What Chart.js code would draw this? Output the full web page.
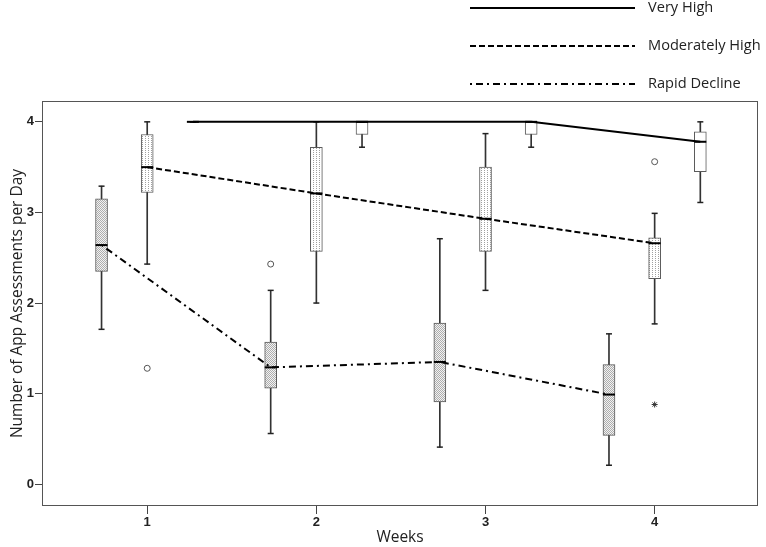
<!DOCTYPE html>
<html>
<head>
<meta charset="utf-8">
<script src="https://cdn.jsdelivr.net/npm/chart.js@4.4.1/dist/chart.umd.min.js"></script>
<style>
  body { margin: 0; background: #fff; }
</style>
</head>
<body>
<canvas id="grafica" width="766" height="547"></canvas>
<script>
// semanas del eje x
const semanas = [1, 2, 3, 4];
const nombresGrupos = ['Very High', 'Moderately High', 'Rapid Decline'];
const ticksY = [0, 1, 2, 3, 4];

// resumen por semana: [min, q1, mediana, q3, max]
const muyAlto = [
    [4.00, 4.00, 4.00, 4.00, 4.00],
    [3.72, 3.86, 4.00, 4.00, 4.00],
    [3.72, 3.86, 4.00, 4.00, 4.00],
    [3.11, 3.45, 3.78, 3.89, 4.00]
];
const moderado = [
    [2.43, 3.22, 3.50, 3.86, 4.00],
    [2.00, 2.57, 3.21, 3.72, 4.00],
    [2.14, 2.57, 2.93, 3.50, 3.87],
    [1.77, 2.27, 2.66, 2.72, 2.99]
];
const rapido = [
    [1.71, 2.35, 2.64, 3.15, 3.29],
    [0.56, 1.06, 1.29, 1.57, 2.14],
    [0.41, 0.91, 1.35, 1.78, 2.71],
    [0.21, 0.54, 0.99, 1.32, 1.66]
];

// valores atipicos: [semana, valor]
const atipicosModerado = [[1, 1.28], [4, 3.56]];
const atipicosRapido = [[2, 2.43]];
const extremosModerado = [[4, 0.88]];


/*-------------------------PATRONES-------------------------*/
function crearPatron(ancho, alto, puntos, fondo, color){
    const c = document.createElement('canvas');
    c.width = ancho;
    c.height = alto;
    const cx = c.getContext('2d');
    cx.fillStyle = fondo;
    cx.fillRect(0, 0, ancho, alto);
    cx.fillStyle = color;
    for(let i=0; i<puntos.length; i++){
        cx.fillRect(puntos[i][0], puntos[i][1], 1, 1);
    }
    return cx.createPattern(c, 'repeat');
}

const ctx = document.getElementById('grafica').getContext('2d');
const patronRapido = crearPatron(2, 2, [[0, 0], [1, 1]], '#f2f2f2', '#adadad');
const patronModerado = crearPatron(3, 2, [[1, 0]], '#ffffff', '#a0a0a0');

const grupos = [
    {nombre: nombresGrupos[0], datos: muyAlto, desp: 0.27, relleno: '#ffffff', guion: []},
    {nombre: nombresGrupos[1], datos: moderado, desp: 0, relleno: patronModerado, guion: [6, 3]},
    {nombre: nombresGrupos[2], datos: rapido, desp: -0.27, relleno: patronRapido, guion: [2, 4, 7, 4]}
];

function buscarDesp(nombre){
    for(let i=0; i<grupos.length; i++){
        if(grupos[i].nombre === nombre) return grupos[i].desp;
    }
    return 0;
}

let conjuntos = [];

grupos.forEach(g => {
    const xs = semanas.map(s => s + g.desp);

    // linea de medianas
    conjuntos.push({
        type: 'line',
        label: g.nombre,
        data: xs.map((x, i) => ({x: x, y: g.datos[i][2]})),
        borderColor: '#000',
        borderWidth: 2,
        borderDash: g.guion,
        pointRadius: 0,
        fill: false,
        order: 0
    });

    // bigotes
    conjuntos.push({
        type: 'bar',
        label: g.nombre + ' bigote',
        data: xs.map((x, i) => ({x: x, y: [g.datos[i][0], g.datos[i][4]]})),
        backgroundColor: '#333',
        borderWidth: 0,
        barThickness: 1,
        grouped: false,
        order: 4
    });

    // cajas
    conjuntos.push({
        type: 'bar',
        label: g.nombre + ' caja',
        data: xs.map((x, i) => ({x: x, y: [g.datos[i][1], g.datos[i][3]]})),
        backgroundColor: g.relleno,
        borderColor: '#5a5a5a',
        borderWidth: 1,
        borderSkipped: false,
        barThickness: 12,
        grouped: false,
        order: 3
    });

    // topes de bigote
    let topes = [];
    xs.forEach((x, i) => {
        topes.push({x: x, y: g.datos[i][0]});
        topes.push({x: x, y: g.datos[i][4]});
    });
    conjuntos.push({
        type: 'scatter',
        label: g.nombre + ' topes',
        data: topes,
        pointStyle: 'line',
        pointRadius: 3,
        borderWidth: 1.5,
        borderColor: '#222',
        order: 2
    });

    // medianas
    conjuntos.push({
        type: 'scatter',
        label: g.nombre + ' mediana',
        data: xs.map((x, i) => ({x: x, y: g.datos[i][2]})),
        pointStyle: 'line',
        pointRadius: 6,
        borderWidth: 2,
        borderColor: '#000',
        order: 1
    });
});

conjuntos.push({
    type: 'scatter',
    label: 'atipicos',
    data: atipicosModerado.map(p => ({x: p[0] + buscarDesp('Moderately High'), y: p[1]}))
        .concat(atipicosRapido.map(p => ({x: p[0] + buscarDesp('Rapid Decline'), y: p[1]}))),
    pointStyle: 'circle',
    pointRadius: 3,
    borderWidth: 1,
    borderColor: '#555',
    backgroundColor: '#fff',
    order: 1
});

conjuntos.push({
    type: 'scatter',
    label: 'extremos',
    data: extremosModerado.map(p => ({x: p[0] + buscarDesp('Moderately High'), y: p[1]})),
    pointStyle: 'star',
    pointRadius: 3,
    borderWidth: 1,
    borderColor: '#333',
    order: 1
});


/*-------------------------MARCO Y LEYENDA-------------------------*/
const marco = {
    id: 'marco',
    beforeDatasetsDraw(chart){
        const a = chart.chartArea;
        const c = chart.ctx;
        c.save();
        c.strokeStyle = '#555';
        c.lineWidth = 1;
        c.strokeRect(Math.round(a.left) + 0.5, Math.round(a.top) + 0.5,
            Math.round(a.right - a.left) - 1, Math.round(a.bottom - a.top) - 1);
        c.restore();
    }
};

const leyenda = {
    id: 'leyenda',
    afterDraw(chart){
        const c = chart.ctx;
        const filas = [8, 46, 84];
        c.save();
        grupos.forEach((g, i) => {
            c.beginPath();
            c.strokeStyle = '#000';
            c.lineWidth = 2;
            c.setLineDash(g.guion);
            c.moveTo(470, filas[i]);
            c.lineTo(635, filas[i]);
            c.stroke();
            c.setLineDash([]);
            c.fillStyle = '#222';
            c.font = '14.6px "Open Sans"';
            c.textBaseline = 'middle';
            c.fillText(g.nombre, 648, filas[i]);
        });
        c.restore();
    }
};

const fuenteTicks = {family: 'Liberation Sans', size: 13, weight: 'bold'};
const fuenteTitulo = {family: 'Open Sans', size: 15.5};

new Chart(ctx, {
    type: 'scatter',
    data: {datasets: conjuntos},
    options: {
        responsive: false,
        animation: false,
        devicePixelRatio: 1,
        events: [],
        layout: {padding: {top: 101, right: 3, left: 0, bottom: 0}},
        plugins: {
            legend: {display: false},
            tooltip: {enabled: false}
        },
        scales: {
            x: {
                type: 'linear',
                min: 0.378,
                max: 4.611,
                offset: false,
                afterBuildTicks: s => { s.ticks = semanas.map(v => ({value: v})); },
                afterFit: s => { s.height = 41; },
                grid: {offset: false, drawOnChartArea: false, drawTicks: true, tickLength: 8, color: '#444'},
                border: {display: false},
                ticks: {font: fuenteTicks, color: '#222', padding: 1, maxRotation: 0},
                title: {display: true, text: 'Weeks', font: fuenteTitulo, color: '#222', padding: 0}
            },
            y: {
                type: 'linear',
                min: -0.24,
                max: 4.23,
                afterBuildTicks: s => { s.ticks = ticksY.map(v => ({value: v})); },
                afterFit: s => { s.width = 42; },
                grid: {drawOnChartArea: false, drawTicks: true, tickLength: 7, color: '#444'},
                border: {display: false},
                ticks: {font: fuenteTicks, color: '#222', padding: 1},
                title: {display: true, text: 'Number of App Assessments per Day', font: fuenteTitulo, color: '#222', padding: {top: 8, bottom: 0}}
            }
        }
    },
    plugins: [marco, leyenda]
});
</script>
</body>
</html>
